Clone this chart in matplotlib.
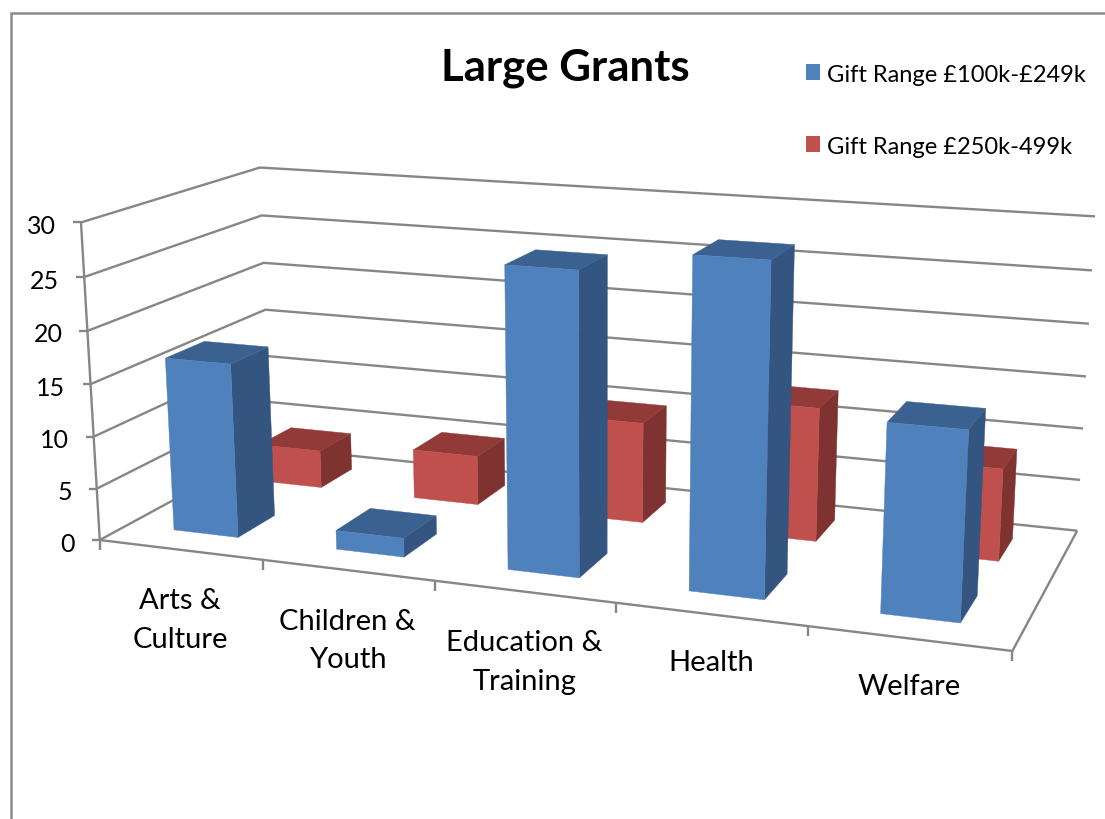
import numpy as np
import matplotlib
matplotlib.use('Agg')
import matplotlib.pyplot as plt
from matplotlib.patches import Polygon

plt.rcParams['font.family'] = ['Lato', 'DejaVu Sans']

categories = ['Arts &\nCulture', 'Children &\nYouth', 'Education &\nTraining', 'Health', 'Welfare']
series_names = ['Gift Range £100k-£249k', 'Gift Range £250k-499k']
low_gift = [16.7, 1.8, 27.8, 29.8, 16.8]
high_gift = [3.8, 4.9, 9.8, 12.8, 8.7]
z_ticks = [0, 5, 10, 15, 20, 25, 30]

# box corners of the chart: (category, depth, value) -> pixel in the picture
calib_3d = [(0, 0, 0), (0, 0, 30), (0, 1, 30), (0, 1, 15), (0, 1, 0),
            (5, 1, 30), (5, 1, 15), (5, 1, 0), (5, 0, 0),
            (1, 0, 0), (2, 0, 0), (3, 0, 0), (4, 0, 0)]
calib_px = [(100, 540), (81, 224), (260, 168), (265, 310), (271, 450),
            (1095, 218), (1086, 377), (1077, 531), (1013, 652),
            (262, 560), (435, 582), (616, 605), (808, 627)]

# perspective camera fitted on those corners
A = []
b = []
for (X, Y, Z), (u, v) in zip(calib_3d, calib_px):
    A.append([X, Y, Z, 1, 0, 0, 0, 0, -u*X, -u*Y, -u*Z])
    b.append(u)
    A.append([0, 0, 0, 0, X, Y, Z, 1, -v*X, -v*Y, -v*Z])
    b.append(v)
cam = np.linalg.lstsq(np.array(A, float), np.array(b, float), rcond=None)[0]
cam = np.append(cam, 1).reshape(3, 4)


def proj(x, y, z):
    p = cam @ np.array([x, y, z, 1.0])
    return p[0]/p[2], p[1]/p[2]


def box(ax, x0, x1, y0, y1, h, cols):
    front = [proj(x0, y0, 0), proj(x1, y0, 0), proj(x1, y0, h), proj(x0, y0, h)]
    side = [proj(x1, y0, 0), proj(x1, y1, 0), proj(x1, y1, h), proj(x1, y0, h)]
    top = [proj(x0, y0, h), proj(x1, y0, h), proj(x1, y1, h), proj(x0, y1, h)]
    for pts, c in zip((side, top, front), cols):
        ax.add_patch(Polygon(pts, closed=True, facecolor=c, edgecolor=c, lw=0.3, zorder=3))


fig = plt.figure(figsize=(11.05, 8.2), dpi=100)
ax = fig.add_axes([0, 0, 1, 1])
ax.set_xlim(0, 1105)
ax.set_ylim(820, 0)
ax.axis('off')

grey = '#868686'
lw = 1.7


def line(pts, c=grey, w=lw):
    xs, ys = zip(*pts)
    ax.plot(xs, ys, color=c, lw=w, solid_capstyle='butt', solid_joinstyle='miter', zorder=1)


# outer chart frame
line([(11, 820), (11, 14), (1105, 14)], c='#8c8c8c', w=1.8)

# walls and floor
for z in z_ticks:
    line([proj(0, 0, z), proj(0, 1, z), proj(5, 1, z)])
    x, y = proj(0, 0, z)
    line([(x-8, y), (x, y)])
    ax.text(x-25, y+3, str(z), ha='right', va='center', fontsize=18)
line([proj(0, 0, 0), proj(0, 0, 30)])
line([proj(0, 0, 0), proj(5, 0, 0), proj(5, 1, 0)])
for i in range(6):
    x, y = proj(i, 0, 0)
    line([(x, y), (x, y+10)])

# bars, back row first
blue = ('#34557f', '#3a6190', '#4f81bd')
red = ('#7f3331', '#923a38', '#c0504d')
for i, v in enumerate(high_gift):
    box(ax, i+0.29, i+0.69, 0.66, 0.865, v, red)
for i, v in enumerate(low_gift):
    box(ax, i+0.29, i+0.69, 0.15, 0.365, v, blue)

# category labels under the floor edge
for i, name in enumerate(categories):
    x, y = proj(i+0.5, 0, 0)
    off = 70 if '\n' in name else 48
    ax.text(x, y+off, name, ha='center', va='center', fontsize=21, linespacing=1.6)

ax.text(565, 68, 'Large Grants', ha='center', va='center', fontsize=31.5, fontweight='bold')

for name, c, y in zip(series_names, ('#4f81bd', '#c0504d'), (73, 145)):
    ax.add_patch(Polygon([(806, y-8), (820, y-8), (820, y+8), (806, y+8)], closed=True, facecolor=c, edgecolor='none'))
    ax.text(827, y+3, name, ha='left', va='center', fontsize=17)

fig.savefig('out.png', dpi=100)
